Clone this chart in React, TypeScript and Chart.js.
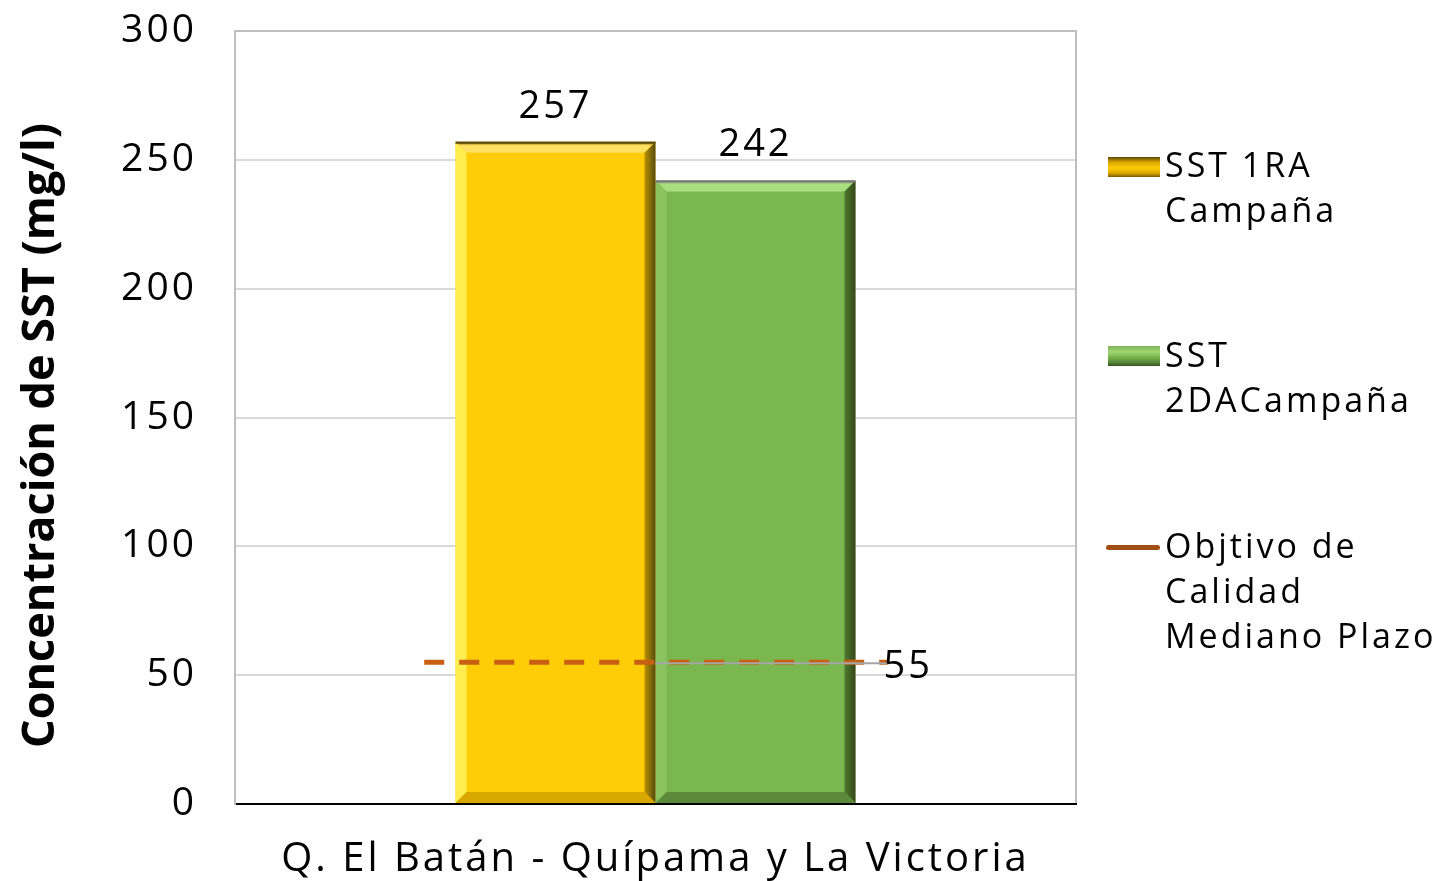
import React, { useEffect, useRef } from "react";
import { Chart, registerables } from "chart.js";

Chart.register(...registerables);

const categories = ["Q. El Batán - Quípama y La Victoria"];
const sst1Values = [257];
const sst2Values = [242];
const objetivoValue = 55;
const objetivoSpan = [-0.275, 0.276];
const yMin = 0;
const yMax = 300;
const yStep = 50;
const seriesLabels = [
  ["SST 1RA", "Campaña"],
  ["SST", "2DACampaña"],
  ["Objtivo de", "Calidad", "Mediano Plazo"],
];
const yTitle = "Concentración de SST (mg/l)";

const FONT = "'Open Sans', 'Noto Sans', sans-serif";

const bevelColors = [
  { top: ["#6b5200", "#ffe060"], left: "#fff35a", right: "#a98400", bottom: "#d9a800", edge: "#5a4a10" },
  { top: ["#8a8a8a", "#a9e07f"], left: "#8fc565", right: "#3f6a26", bottom: "#5b8a3b", edge: "#777" },
];

const spacingPlugin = {
  id: "spacing",
  beforeInit(chart: any) {
    (chart.ctx as any).letterSpacing = "3px";
  },
  beforeDraw(chart: any) {
    (chart.ctx as any).letterSpacing = "3px";
  },
};

const bevelPlugin = {
  id: "bevel",
  afterDatasetDraw(chart: any, args: any) {
    const meta = args.meta;
    if (meta.type !== "bar") return;
    const cols = bevelColors[args.index];
    if (!cols) return;
    const ctx = chart.ctx;
    const b = 11;
    meta.data.forEach((el: any) => {
      const x0 = el.x - el.width / 2;
      const x1 = el.x + el.width / 2;
      const y0 = el.y;
      const y1 = el.base;
      ctx.save();
      const gt = ctx.createLinearGradient(0, y0, 0, y0 + b);
      gt.addColorStop(0, cols.top[0]);
      gt.addColorStop(0.35, cols.top[1]);
      gt.addColorStop(1, cols.top[1]);
      ctx.fillStyle = gt;
      ctx.beginPath();
      ctx.moveTo(x0, y0); ctx.lineTo(x1, y0); ctx.lineTo(x1 - b, y0 + b); ctx.lineTo(x0 + b, y0 + b); ctx.closePath();
      ctx.fill();
      ctx.fillStyle = cols.left;
      ctx.globalAlpha = 0.85;
      ctx.beginPath();
      ctx.moveTo(x0, y0); ctx.lineTo(x0 + b, y0 + b); ctx.lineTo(x0 + b, y1 - b); ctx.lineTo(x0, y1); ctx.closePath();
      ctx.fill();
      ctx.globalAlpha = 1;
      const gr = ctx.createLinearGradient(x1 - b, 0, x1, 0);
      gr.addColorStop(0, cols.right);
      gr.addColorStop(1, "#2a2a10");
      ctx.fillStyle = gr;
      ctx.globalAlpha = 0.8;
      ctx.beginPath();
      ctx.moveTo(x1, y0); ctx.lineTo(x1, y1); ctx.lineTo(x1 - b, y1 - b); ctx.lineTo(x1 - b, y0 + b); ctx.closePath();
      ctx.fill();
      ctx.globalAlpha = 1;
      ctx.fillStyle = cols.bottom;
      ctx.beginPath();
      ctx.moveTo(x0, y1); ctx.lineTo(x1, y1); ctx.lineTo(x1 - b, y1 - b); ctx.lineTo(x0 + b, y1 - b); ctx.closePath();
      ctx.fill();
      ctx.strokeStyle = cols.edge;
      ctx.lineWidth = 2;
      ctx.beginPath();
      ctx.moveTo(x0, y0 + 1); ctx.lineTo(x1, y0 + 1);
      ctx.stroke();
      ctx.restore();
    });
  },
};

const framePlugin = {
  id: "frame",
  beforeDatasetsDraw(chart: any) {
    const { ctx, chartArea } = chart;
    ctx.save();
    ctx.strokeStyle = "#BFBFBF";
    ctx.lineWidth = 2;
    ctx.beginPath();
    ctx.moveTo(chartArea.left, chartArea.top);
    ctx.lineTo(chartArea.right, chartArea.top);
    ctx.lineTo(chartArea.right, chartArea.bottom - 1);
    ctx.stroke();
    ctx.restore();
  },
};

const labelsPlugin = {
  id: "valueLabels",
  afterDraw(chart: any) {
    const ctx = chart.ctx;
    const { chartArea } = chart;
    ctx.save();
    ctx.fillStyle = "#000";
    ctx.font = `38px ${FONT}`;
    ctx.textAlign = "center";
    ctx.textBaseline = "middle";
    [0, 1].forEach((di) => {
      const meta = chart.getDatasetMeta(di);
      meta.data.forEach((el: any, i: number) => {
        const v = chart.data.datasets[di].data[i];
        ctx.fillText(String(v), el.x, el.y - 35);
      });
    });
    const lineMeta = chart.getDatasetMeta(2);
    const last = lineMeta.data[lineMeta.data.length - 1];
    const groupCenter = chart.scales.x.getPixelForValue(0);
    ctx.strokeStyle = "#A6A6A6";
    ctx.lineWidth = 2;
    ctx.beginPath();
    ctx.moveTo(groupCenter, last.y + 1);
    ctx.lineTo(last.x, last.y + 1);
    ctx.stroke();
    ctx.textAlign = "left";
    ctx.fillText(String(objetivoValue), last.x - 4, last.y + 5);
    (ctx as any).letterSpacing = "0px";
    ctx.translate(41, (chartArea.top + chartArea.bottom) / 2 + 18);
    ctx.rotate(-Math.PI / 2);
    ctx.font = `bold 45px ${FONT}`;
    ctx.textAlign = "center";
    ctx.textBaseline = "middle";
    ctx.fillText(yTitle, 0, 0);
    ctx.restore();
  },
};

export default function App() {
  const ref = useRef<HTMLCanvasElement>(null);
  useEffect(() => {
    if (!ref.current) return;
    const chart = new Chart(ref.current, {
      type: "bar",
      data: {
        labels: categories,
        datasets: [
          {
            type: "bar",
            label: seriesLabels[0].join(" "),
            data: sst1Values,
            backgroundColor: "#FFCC08",
          } as any,
          {
            type: "bar",
            label: seriesLabels[1].join(" "),
            data: sst2Values,
            backgroundColor: "#7AB74E",
          } as any,
          {
            type: "line",
            label: seriesLabels[2].join(" "),
            parsing: false,
            data: objetivoSpan.map((x) => ({ x, y: objetivoValue })),
            borderColor: "#C85F12",
            borderWidth: 5,
            borderDash: [20, 15],
            pointRadius: 0,
            order: -1,
          } as any,
        ],
      },
      options: {
        animation: false,
        responsive: false,
        devicePixelRatio: 1,
        layout: { padding: { left: 0, top: 31, right: 369, bottom: 0 } },
        datasets: { bar: { barPercentage: 1, categoryPercentage: 0.4756 } } as any,
        plugins: { legend: { display: false }, tooltip: { enabled: false } },
        scales: {
          x: {
            type: "category",
            grid: { display: false, drawTicks: false },
            border: { color: "#000", width: 2 },
            ticks: { color: "#000", font: { family: FONT, size: 40 }, padding: 32 },
            afterFit: (s: any) => { s.height = 77; s.paddingLeft = 0; s.paddingRight = 0; },
          },
          y: {
            min: yMin,
            max: yMax,
            grid: { color: "#D9D9D9", lineWidth: 2, drawTicks: false },
            border: { color: "#BFBFBF", width: 2 },
            ticks: { stepSize: yStep, color: "#000", font: { family: FONT, size: 39 }, padding: 38 },
            afterFit: (s: any) => { s.width = 235; s.paddingTop = 0; s.paddingBottom = 0; },
          },
        },
      } as any,
      plugins: [spacingPlugin, framePlugin, bevelPlugin, labelsPlugin],
    });
    return () => chart.destroy();
  }, []);

  const textStyle: React.CSSProperties = {
    position: "absolute",
    left: 1165,
    fontFamily: FONT,
    fontSize: 34,
    lineHeight: "45px",
    letterSpacing: "3px",
    color: "#000",
    whiteSpace: "nowrap",
  };
  const legendTops = [142, 332, 523];

  return (
    <div style={{ position: "absolute", left: 0, top: 0, width: 1445, height: 881, background: "#fff" }}>
      <canvas ref={ref} width={1445} height={881} style={{ position: "absolute", left: 0, top: 0, width: 1445, height: 881 }} />
      <div style={{ position: "absolute", left: 1108, top: 157, width: 52, height: 20, background: "linear-gradient(to bottom, #5c4500 0%, #d6a600 25%, #ffcc08 55%, #d9a800 80%, #7a5c00 100%)" }} />
      <div style={{ position: "absolute", left: 1108, top: 346, width: 52, height: 20, background: "linear-gradient(to bottom, #7fb35a 0%, #9fd672 30%, #7ab74e 55%, #5b8a3b 80%, #34551f 100%)" }} />
      <div style={{ position: "absolute", left: 1106, top: 545, width: 54, height: 5, borderRadius: 3, background: "#A14E12" }} />
      {seriesLabels.map((lines, i) => (
        <div key={i} style={{ ...textStyle, top: legendTops[i] }}>
          {lines.map((l, j) => (
            <div key={j}>{l}</div>
          ))}
        </div>
      ))}
    </div>
  );
}
